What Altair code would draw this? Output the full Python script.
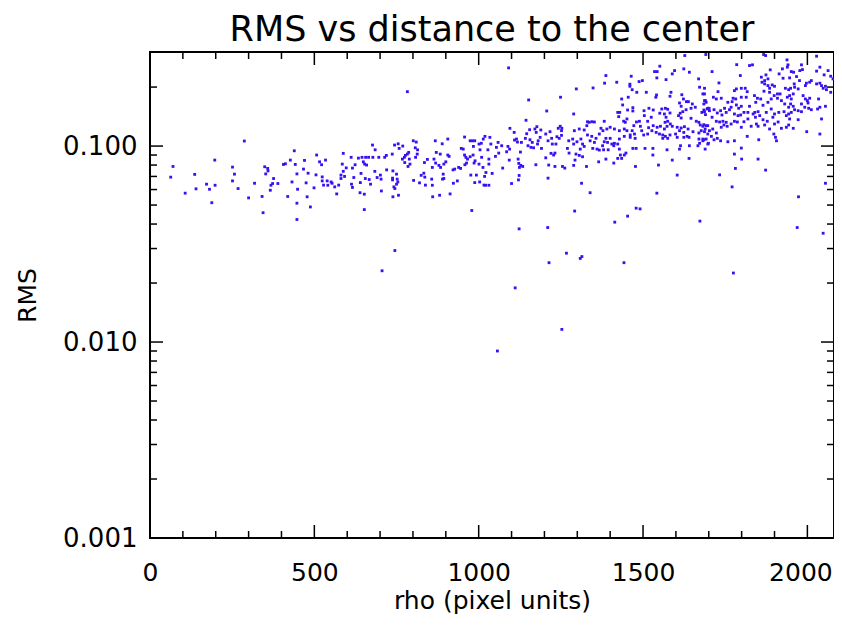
import altair as alt
import pandas as pd

# ---------------- text ----------------
title_text = "RMS vs distance to the center"
x_title = "rho (pixel units)"
y_title = "RMS"

# ---------------- axes ----------------
x_domain = [0, 2081]
y_domain = [0.001, 0.302]
x_major = [0, 500, 1000, 1500, 2000]
x_minor = [100, 200, 300, 400, 600, 700, 800, 900, 1100, 1200, 1300, 1400,
           1600, 1700, 1800, 1900]
y_major = [0.001, 0.01, 0.1]
y_minor = [0.002, 0.003, 0.004, 0.005, 0.006, 0.007, 0.008, 0.009,
           0.02, 0.03, 0.04, 0.05, 0.06, 0.07, 0.08, 0.09, 0.2]

# ---------------- data (rho, RMS) ----------------
outliers = [(188, 0.0514), (344, 0.0457), (447, 0.0511), (488, 0.0489), (447, 0.0422),
            (652, 0.0474), (979, 0.0469), (745, 0.0293), (706, 0.0231), (1057, 0.0090),
            (1292, 0.0466), (1479, 0.0482), (1491, 0.0478), (1453, 0.0439), (1414, 0.0409),
            (1123, 0.0378), (1210, 0.0384), (1267, 0.0284), (1314, 0.0273), (1309, 0.0267),
            (1214, 0.0254), (1442, 0.0254), (1111, 0.0189), (1253, 0.0116), (1673, 0.0414),
            (1969, 0.0384), (2048, 0.0359), (1775, 0.0225)]

band_0_450 = [(70, 0.0787), (63, 0.0694), (107, 0.0575), (136, 0.0717), (140, 0.0605),
              (172, 0.0639), (181, 0.0602), (197, 0.0848), (198, 0.0631), (251, 0.0781),
              (257, 0.0719), (251, 0.0664), (268, 0.0607), (287, 0.1061), (300, 0.0544),
              (318, 0.0646), (341, 0.0553), (349, 0.0784), (358, 0.0769), (359, 0.0747),
              (352, 0.0721), (376, 0.0683), (368, 0.0631), (373, 0.0644), (366, 0.0595),
              (389, 0.0644), (406, 0.0806), (412, 0.0812), (419, 0.0553), (427, 0.0848)]

band_450_850 = [(783, 0.1895), (439, 0.0946), (442, 0.0806), (470, 0.0845), (467, 0.0763),
                (447, 0.0721), (481, 0.0727), (432, 0.0656), (475, 0.0649), (449, 0.0602),
                (478, 0.0551), (507, 0.0900), (516, 0.0831), (522, 0.0803), (534, 0.0848),
                (505, 0.0713), (524, 0.0696), (524, 0.0664), (539, 0.0664), (528, 0.0632),
                (541, 0.0631), (499, 0.0612), (551, 0.0656), (554, 0.0646), (562, 0.0619),
                (568, 0.0570), (574, 0.0632), (588, 0.0918), (585, 0.0809), (597, 0.0774),
                (588, 0.0743), (581, 0.0711), (592, 0.0700), (581, 0.0683), (612, 0.0876),
                (616, 0.0772), (624, 0.0803), (620, 0.0691), (613, 0.0639), (616, 0.0615),
                (639, 0.0578), (652, 0.0568), (640, 0.0651), (642, 0.0725), (634, 0.0868),
                (645, 0.0876), (649, 0.0831), (653, 0.0809), (659, 0.0800), (656, 0.0876),
                (665, 0.0876), (677, 0.1012), (685, 0.0957), (678, 0.0876), (684, 0.0743),
                (655, 0.0683), (667, 0.0675), (671, 0.0639), (691, 0.0691), (701, 0.0711),
                (703, 0.0678), (696, 0.0876), (714, 0.0876), (719, 0.0896), (704, 0.0590),
                (720, 0.0756), (737, 0.0910), (744, 0.1012), (755, 0.1027), (758, 0.0973),
                (769, 0.1000), (739, 0.0747), (750, 0.0719), (738, 0.0686), (738, 0.0672),
                (752, 0.0678), (754, 0.0656), (750, 0.0639), (742, 0.0619), (745, 0.0607),
                (739, 0.0551), (756, 0.0561), (768, 0.0858), (774, 0.0876), (777, 0.0896),
                (783, 0.0910), (787, 0.0928), (775, 0.0824), (789, 0.0858), (785, 0.0787),
                (791, 0.0809), (801, 0.1064), (810, 0.1048), (807, 0.0980), (814, 0.0957),
                (813, 0.0910), (808, 0.0876), (802, 0.0668), (820, 0.0649), (825, 0.0709),
                (833, 0.0727), (836, 0.0694), (838, 0.0632), (835, 0.0824), (844, 0.0855)]

band_850_1280 = [(1091, 0.2506), (1152, 0.1719), (1249, 0.1775), (1207, 0.1510), (1144, 0.1354),
                 (1095, 0.1232), (1108, 0.1174), (868, 0.1064), (906, 0.1086), (889, 0.1027),
                 (871, 0.0928), (883, 0.0910), (864, 0.0858), (869, 0.0819), (859, 0.0778),
                 (879, 0.0797), (884, 0.0778), (894, 0.0809), (900, 0.0831), (906, 0.0900),
                 (910, 0.0886), (892, 0.0719), (890, 0.0678), (894, 0.0683), (857, 0.0678),
                 (859, 0.0631), (923, 0.0646), (935, 0.0664), (922, 0.0756), (927, 0.0763),
                 (939, 0.0778), (945, 0.0769), (913, 0.0570), (881, 0.0561), (860, 0.0551),
                 (957, 0.1112), (947, 0.0973), (953, 0.0965), (957, 0.0900), (961, 0.0876),
                 (966, 0.0858), (974, 0.0882), (958, 0.0803), (963, 0.0819), (974, 0.1064),
                 (981, 0.1064), (988, 0.1064), (984, 0.0996), (983, 0.0900), (989, 0.0841),
                 (986, 0.0819), (976, 0.0711), (993, 0.0711), (988, 0.0651), (1003, 0.0656),
                 (1001, 0.1024), (1008, 0.1033), (1014, 0.1086), (1019, 0.1121), (1034, 0.1108),
                 (1004, 0.0957), (1009, 0.0876), (1001, 0.0809), (1013, 0.0778), (1022, 0.0733),
                 (1018, 0.0700), (1016, 0.0632), (1021, 0.0631), (1031, 0.0631), (1041, 0.0725),
                 (1031, 0.0809), (1031, 0.0858), (1028, 0.0957), (1037, 0.1024), (1054, 0.0985),
                 (1059, 0.1044), (1070, 0.1004), (1051, 0.0886), (1061, 0.0921), (1073, 0.0772),
                 (1085, 0.0935), (1089, 0.0996), (1094, 0.0965), (1093, 0.0848), (1100, 0.0644),
                 (1109, 0.1073), (1115, 0.1086), (1118, 0.1048), (1120, 0.0858), (1122, 0.0816),
                 (1124, 0.0778), (1128, 0.0797), (1134, 0.0787), (1123, 0.0708), (1121, 0.0672),
                 (1127, 0.0932), (1130, 0.1044), (1142, 0.1095), (1146, 0.1156), (1155, 0.1212),
                 (1150, 0.1004), (1159, 0.0985), (1163, 0.1044), (1167, 0.0980), (1156, 0.1077),
                 (1171, 0.1222), (1177, 0.1256), (1175, 0.1174), (1181, 0.1064), (1189, 0.1208),
                 (1187, 0.1108), (1179, 0.1024), (1191, 0.0973), (1174, 0.0803), (1204, 0.1152),
                 (1211, 0.1064), (1217, 0.1184), (1222, 0.1095), (1224, 0.1024), (1204, 0.0871),
                 (1213, 0.0800), (1220, 0.0918), (1228, 0.0900), (1232, 0.0921), (1211, 0.0686),
                 (1232, 0.0787), (1242, 0.1232), (1248, 0.1262), (1253, 0.1232), (1252, 0.1198),
                 (1238, 0.1116), (1245, 0.1095), (1235, 0.1024), (1255, 0.0787), (1262, 0.0772),
                 (1270, 0.0973), (1274, 0.1064), (1275, 0.0921), (1252, 0.1134)]

band_1280_1700 = [(1627, 0.2897), (1551, 0.2556), (1535, 0.2399), (1543, 0.2399), (1542, 0.2228),
                  (1589, 0.2335), (1596, 0.2427), (1624, 0.2477), (1641, 0.2381), (1570, 0.2183),
                  (1464, 0.2272), (1387, 0.2290), (1383, 0.2094), (1420, 0.2117), (1488, 0.2133),
                  (1498, 0.2158), (1460, 0.2069), (1460, 0.2019), (1467, 0.1940), (1297, 0.1957),
                  (1348, 0.1980), (1481, 0.1881), (1510, 0.1881), (1541, 0.1823), (1539, 0.1775),
                  (1585, 0.1881), (1582, 0.1796), (1618, 0.1828), (1623, 0.1739), (1669, 0.2202),
                  (1672, 0.1997), (1682, 0.1845), (1687, 0.1705), (1692, 0.1672), (1455, 0.1775),
                  (1435, 0.1739), (1438, 0.1621), (1469, 0.1570), (1469, 0.1510), (1453, 0.1528),
                  (1429, 0.1485), (1426, 0.1413), (1423, 0.1485), (1289, 0.1458), (1503, 0.1515),
                  (1518, 0.1559), (1531, 0.1528), (1525, 0.1403), (1514, 0.1338), (1504, 0.1430),
                  (1551, 0.1471), (1557, 0.1546), (1568, 0.1559), (1575, 0.1541), (1582, 0.1475),
                  (1565, 0.1458), (1570, 0.1403), (1575, 0.1338), (1567, 0.1322), (1583, 0.1296),
                  (1573, 0.1261), (1611, 0.1659), (1616, 0.1596), (1632, 0.1685), (1638, 0.1685),
                  (1650, 0.1640), (1646, 0.1559), (1659, 0.1578), (1631, 0.1533), (1621, 0.1498),
                  (1613, 0.1471), (1608, 0.1430), (1616, 0.1391), (1646, 0.1386), (1662, 0.1338),
                  (1670, 0.1322), (1685, 0.1528), (1695, 0.1546), (1701, 0.1559), (1679, 0.1485),
                  (1690, 0.1447), (1674, 0.1281), (1685, 0.1286), (1697, 0.1271), (1689, 0.1222),
                  (1677, 0.1198), (1670, 0.1166), (1670, 0.1086), (1682, 0.1086), (1697, 0.1152),
                  (1652, 0.1184), (1637, 0.1222), (1626, 0.1256), (1616, 0.1237), (1604, 0.1247),
                  (1611, 0.1198), (1624, 0.1174), (1634, 0.1121), (1624, 0.1108), (1640, 0.1108),
                  (1604, 0.1108), (1599, 0.1152), (1589, 0.1262), (1565, 0.1222), (1553, 0.1262),
                  (1543, 0.1247), (1531, 0.1271), (1517, 0.1241), (1527, 0.1198), (1540, 0.1174),
                  (1550, 0.1152), (1560, 0.1139), (1568, 0.1121), (1560, 0.1095), (1575, 0.1095),
                  (1582, 0.1139), (1514, 0.1152), (1502, 0.1139), (1496, 0.1198), (1492, 0.1262),
                  (1489, 0.1338), (1480, 0.1327), (1472, 0.1271), (1467, 0.1198), (1474, 0.1152),
                  (1461, 0.1108), (1476, 0.1095), (1451, 0.1198), (1446, 0.1322), (1441, 0.1339),
                  (1451, 0.1375), (1443, 0.1222), (1428, 0.1198), (1413, 0.1222), (1400, 0.1247),
                  (1382, 0.1338), (1390, 0.1222), (1378, 0.1198), (1372, 0.1232), (1367, 0.1152),
                  (1357, 0.1095), (1344, 0.1121), (1352, 0.1044), (1339, 0.1064), (1347, 0.0973),
                  (1331, 0.1139), (1329, 0.1271), (1336, 0.1322), (1344, 0.1331), (1352, 0.1327),
                  (1331, 0.1331), (1306, 0.1222), (1291, 0.1198), (1321, 0.1208), (1311, 0.1086),
                  (1299, 0.1052), (1286, 0.1086), (1289, 0.1024), (1316, 0.1024), (1321, 0.0996),
                  (1309, 0.0965), (1296, 0.0910), (1306, 0.0896), (1316, 0.0882), (1293, 0.0848),
                  (1289, 0.0797), (1328, 0.0787), (1365, 0.0831), (1387, 0.0858), (1411, 0.0819),
                  (1423, 0.0865), (1431, 0.0900), (1435, 0.0865), (1443, 0.0900), (1448, 0.0921),
                  (1469, 0.0973), (1479, 0.0973), (1477, 0.0787), (1506, 0.0973), (1530, 0.0973),
                  (1530, 0.0900), (1547, 0.0800), (1573, 0.0957), (1589, 0.0848), (1604, 0.0711),
                  (1413, 0.1033), (1405, 0.1024), (1394, 0.0957), (1380, 0.0957), (1367, 0.0954),
                  (1428, 0.1086), (1423, 0.1024), (1428, 0.0965), (1411, 0.1004), (1400, 0.1095),
                  (1387, 0.1095), (1382, 0.1052), (1392, 0.1044), (1377, 0.1004), (1360, 0.0965),
                  (1443, 0.1121), (1461, 0.1139), (1614, 0.1004), (1611, 0.0965), (1641, 0.1004),
                  (1667, 0.1004), (1672, 0.1033), (1685, 0.1077), (1697, 0.1024), (1640, 0.0865),
                  (1313, 0.0646), (1339, 0.0578), (1542, 0.0575)]

band_1700_2100 = [(1691, 0.2932), (1867, 0.2932), (1873, 0.2897), (1938, 0.2753), (2028, 0.2875),
                  (1785, 0.2603), (1824, 0.2576), (1833, 0.2597), (1710, 0.2399), (1796, 0.2290),
                  (1874, 0.2308), (1887, 0.2448), (1860, 0.2247), (1870, 0.2158), (1880, 0.2202),
                  (1862, 0.2117), (1870, 0.2076), (1924, 0.2477), (1941, 0.2597), (1939, 0.2527),
                  (1951, 0.2399), (1958, 0.2381), (1914, 0.2335), (1926, 0.2219), (1946, 0.2228),
                  (1982, 0.2597), (1977, 0.2427), (1985, 0.2456), (1967, 0.2263), (1976, 0.2158),
                  (1960, 0.2076), (2038, 0.2527), (2028, 0.2412), (2051, 0.2308), (2063, 0.2427),
                  (2071, 0.2272), (2078, 0.2202), (1997, 0.2094), (2007, 0.2117), (2012, 0.2158),
                  (1994, 0.2035), (2028, 0.2076), (2038, 0.2094), (2043, 0.2035), (2055, 0.2019),
                  (2048, 0.1972), (2058, 0.1940), (2071, 0.1881), (1731, 0.2100), (1687, 0.1972),
                  (1799, 0.1972), (1784, 0.1957), (1778, 0.1918), (1811, 0.1972), (1817, 0.1895),
                  (1885, 0.1972), (1880, 0.2035), (1893, 0.2051), (1900, 0.2019), (1868, 0.1905),
                  (1885, 0.1881), (1899, 0.1809), (1909, 0.1845), (1917, 0.1845), (1933, 0.1972),
                  (1943, 0.1940), (1949, 0.1972), (1961, 0.1997), (1972, 0.1957), (1957, 0.1845),
                  (1946, 0.1809), (1939, 0.1775), (1728, 0.1895), (1714, 0.1775), (1723, 0.1739),
                  (1738, 0.1754), (1687, 0.1845), (1690, 0.1705), (1685, 0.1640), (1758, 0.1672),
                  (1774, 0.1754), (1782, 0.1739), (1771, 0.1685), (1799, 0.1775), (1814, 0.1775),
                  (1839, 0.1809), (1848, 0.1754), (1858, 0.1739), (1843, 0.1672), (1865, 0.1615),
                  (1880, 0.1672), (1890, 0.1739), (1909, 0.1754), (1921, 0.1705), (1931, 0.1640),
                  (1951, 0.1739), (1949, 0.1640), (1957, 0.1596), (1943, 0.1578), (1961, 0.1533),
                  (1987, 0.1809), (1994, 0.1739), (2000, 0.1705), (2007, 0.1754), (2002, 0.1659),
                  (1982, 0.1640), (1992, 0.1578), (2004, 0.1559), (2012, 0.1533), (1972, 0.1515),
                  (1982, 0.1498), (2034, 0.1739), (2038, 0.1578), (2031, 0.1546), (2055, 0.1596),
                  (2043, 0.1375), (2038, 0.1152), (1998, 0.1184), (1697, 0.1559), (1687, 0.1498),
                  (1702, 0.1515), (1716, 0.1533), (1726, 0.1475), (1710, 0.1403), (1736, 0.1515),
                  (1748, 0.1559), (1740, 0.1441), (1753, 0.1485), (1763, 0.1533), (1768, 0.1578),
                  (1784, 0.1621), (1791, 0.1559), (1799, 0.1596), (1778, 0.1458), (1789, 0.1430),
                  (1797, 0.1441), (1807, 0.1485), (1824, 0.1596), (1819, 0.1485), (1835, 0.1458),
                  (1840, 0.1485), (1850, 0.1498), (1842, 0.1403), (1855, 0.1430), (1875, 0.1485),
                  (1890, 0.1546), (1900, 0.1458), (1895, 0.1403), (1913, 0.1485), (1929, 0.1498),
                  (1936, 0.1430), (1943, 0.1458), (1951, 0.1485), (1946, 0.1375), (1723, 0.1338),
                  (1733, 0.1327), (1743, 0.1338), (1753, 0.1322), (1746, 0.1281), (1756, 0.1262),
                  (1738, 0.1247), (1768, 0.1296), (1778, 0.1338), (1787, 0.1327), (1799, 0.1247),
                  (1807, 0.1331), (1819, 0.1375), (1829, 0.1262), (1845, 0.1296), (1850, 0.1262),
                  (1865, 0.1363), (1870, 0.1281), (1878, 0.1338), (1885, 0.1222), (1900, 0.1296),
                  (1911, 0.1327), (1921, 0.1232), (1936, 0.1247), (1943, 0.1281), (1957, 0.1232),
                  (1972, 0.1363), (1682, 0.1262), (1692, 0.1271), (1687, 0.1184), (1702, 0.1198),
                  (1712, 0.1222), (1723, 0.1166), (1708, 0.1121), (1692, 0.1086), (1682, 0.1064),
                  (1716, 0.1077), (1726, 0.1095), (1736, 0.1064), (1699, 0.1033), (1689, 0.0965),
                  (1778, 0.1064), (1758, 0.1052), (1817, 0.1121), (1852, 0.1077), (1898, 0.1152),
                  (1903, 0.1108), (1906, 0.1064), (1778, 0.0910), (1799, 0.0977), (1800, 0.0858),
                  (1850, 0.0858), (1873, 0.0754), (1781, 0.0769), (1733, 0.0713), (1771, 0.0619),
                  (1973, 0.0551), (2055, 0.0646)]

# ---------------- style ----------------
FONT = "DejaVu Sans"
POINT_COLOR = "#3a10f2"
W, H = 684, 486
MAJOR_LEN, MINOR_LEN = 13, 7

all_pts = outliers + band_0_450 + band_450_850 + band_850_1280 + band_1280_1700 + band_1700_2100
df = pd.DataFrame(all_pts, columns=["rho", "rms"])

xs = alt.Scale(domain=x_domain, nice=False, zero=False)
ys = alt.Scale(type="log", domain=y_domain, nice=False)

x_axis = alt.Axis(values=x_major, format="d", ticks=False, tickSize=0, domain=False,
                  grid=False, labelFont=FONT, labelFontSize=25, labelColor="black",
                  labelPadding=22, labelFlush=False,
                  labelOffset={"condition": {"test": "datum.value === 2000", "value": -7},
                               "value": 0},
                  title=x_title, titleFont=FONT,
                  titleFontSize=25, titleFontWeight="normal", titleColor="black",
                  titlePadding=3)
y_axis = alt.Axis(values=y_major, format=".3f", ticks=False, tickSize=0, domain=False,
                  grid=False, labelFont=FONT, labelFontSize=26, labelColor="black",
                  labelPadding=13, labelFlush=False, title=y_title, titleFont=FONT,
                  titleFontSize=25, titleFontWeight="normal", titleColor="black",
                  titlePadding=22)

points = alt.Chart(df).mark_square(size=8, color=POINT_COLOR, opacity=1).encode(
    x=alt.X("rho:Q", scale=xs, axis=x_axis, title=x_title),
    y=alt.Y("rms:Q", scale=ys, axis=y_axis, title=y_title),
)


def x_ticks(values, length, top):
    d = pd.DataFrame({"rho": values})
    if top:
        ypos = dict(y=alt.value(0), y2=alt.value(length))
    else:
        ypos = dict(y=alt.value(H), y2=alt.value(H - length))
    return alt.Chart(d).mark_rule(color="black", strokeWidth=1.5).encode(
        x=alt.X("rho:Q", scale=xs, axis=x_axis, title=x_title), **ypos)


def y_ticks(values, length, right):
    d = pd.DataFrame({"rms": values})
    if right:
        xpos = dict(x=alt.value(W), x2=alt.value(W - length))
    else:
        xpos = dict(x=alt.value(0), x2=alt.value(length))
    return alt.Chart(d).mark_rule(color="black", strokeWidth=1.5).encode(
        y=alt.Y("rms:Q", scale=ys, axis=y_axis, title=y_title), **xpos)


tick_layers = [
    x_ticks(x_major, MAJOR_LEN, False), x_ticks(x_minor, MINOR_LEN, False),
    x_ticks(x_major, MAJOR_LEN, True), x_ticks(x_minor, MINOR_LEN, True),
    y_ticks(y_major, MAJOR_LEN, False), y_ticks(y_minor, MINOR_LEN, False),
    y_ticks(y_major, MAJOR_LEN, True), y_ticks(y_minor, MINOR_LEN, True),
]

chart = alt.layer(points, *tick_layers).properties(
    width=W, height=H,
    title=alt.TitleParams(title_text, font=FONT, fontSize=35, fontWeight="normal",
                          color="black", anchor="middle", offset=3),
    autosize=alt.AutoSizeParams(type="none"),
    padding={"left": 142, "top": 44, "right": 0, "bottom": 77},
).configure(background="white").configure_view(stroke="black", strokeWidth=2)

chart.save("out.html", embed_options={"renderer": "svg", "actions": False})
